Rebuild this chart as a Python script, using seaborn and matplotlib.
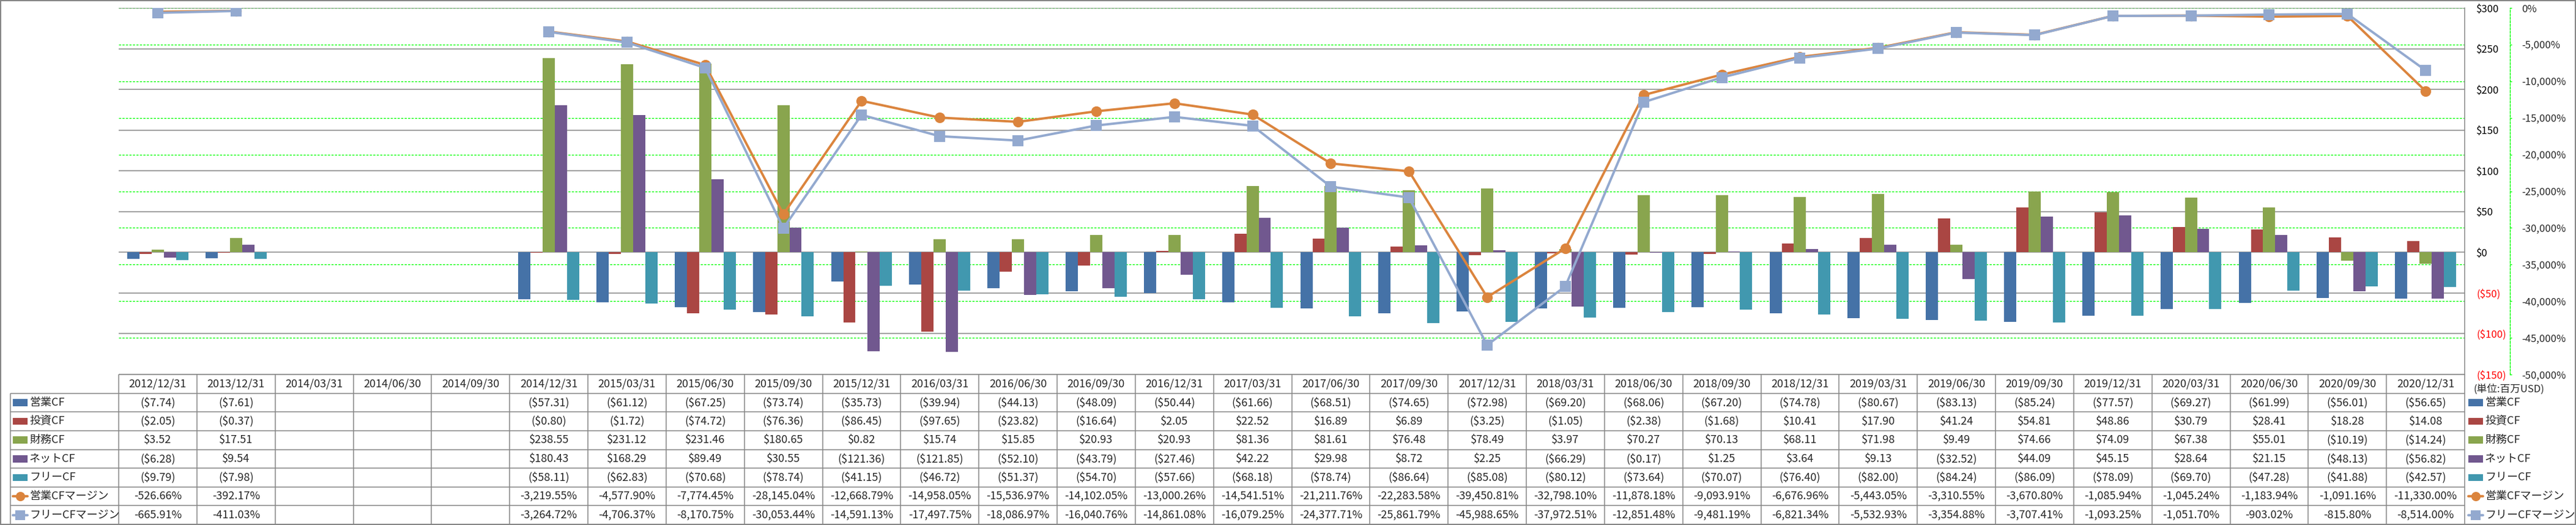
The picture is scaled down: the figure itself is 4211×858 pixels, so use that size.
import numpy as np
import pandas as pd
import matplotlib
matplotlib.use("Agg")
import matplotlib.pyplot as plt
import seaborn as sns
from matplotlib.patches import Rectangle

nan = np.nan

dates = ["2012/12/31", "2013/12/31", "2014/03/31", "2014/06/30", "2014/09/30",
         "2014/12/31", "2015/03/31", "2015/06/30", "2015/09/30", "2015/12/31",
         "2016/03/31", "2016/06/30", "2016/09/30", "2016/12/31", "2017/03/31",
         "2017/06/30", "2017/09/30", "2017/12/31", "2018/03/31", "2018/06/30",
         "2018/09/30", "2018/12/31", "2019/03/31", "2019/06/30", "2019/09/30",
         "2019/12/31", "2020/03/31", "2020/06/30", "2020/09/30", "2020/12/31"]

op_cf = [-7.74, -7.61, nan, nan, nan, -57.31, -61.12, -67.25, -73.74, -35.73,
         -39.94, -44.13, -48.09, -50.44, -61.66, -68.51, -74.65, -72.98, -69.20, -68.06,
         -67.20, -74.78, -80.67, -83.13, -85.24, -77.57, -69.27, -61.99, -56.01, -56.65]
inv_cf = [-2.05, -0.37, nan, nan, nan, -0.80, -1.72, -74.72, -76.36, -86.45,
          -97.65, -23.82, -16.64, 2.05, 22.52, 16.89, 6.89, -3.25, -1.05, -2.38,
          -1.68, 10.41, 17.90, 41.24, 54.81, 48.86, 30.79, 28.41, 18.28, 14.08]
fin_cf = [3.52, 17.51, nan, nan, nan, 238.55, 231.12, 231.46, 180.65, 0.82,
          15.74, 15.85, 20.93, 20.93, 81.36, 81.61, 76.48, 78.49, 3.97, 70.27,
          70.13, 68.11, 71.98, 9.49, 74.66, 74.09, 67.38, 55.01, -10.19, -14.24]
net_cf = [-6.28, 9.54, nan, nan, nan, 180.43, 168.29, 89.49, 30.55, -121.36,
          -121.85, -52.10, -43.79, -27.46, 42.22, 29.98, 8.72, 2.25, -66.29, -0.17,
          1.25, 3.64, 9.13, -32.52, 44.09, 45.15, 28.64, 21.15, -48.13, -56.82]
free_cf = [-9.79, -7.98, nan, nan, nan, -58.11, -62.83, -70.68, -78.74, -41.15,
           -46.72, -51.37, -54.70, -57.66, -68.18, -78.74, -86.64, -85.08, -80.12, -73.64,
           -70.07, -76.40, -82.00, -84.24, -86.09, -78.09, -69.70, -47.28, -41.88, -42.57]
op_margin = [-526.66, -392.17, nan, nan, nan, -3219.55, -4577.90, -7774.45, -28145.04, -12668.79,
             -14958.05, -15536.97, -14102.05, -13000.26, -14541.51, -21211.76, -22283.58, -39450.81,
             -32798.10, -11878.18, -9093.91, -6676.96, -5443.05, -3310.55, -3670.80, -1085.94,
             -1045.24, -1183.94, -1091.16, -11330.00]
free_margin = [-665.91, -411.03, nan, nan, nan, -3264.72, -4706.37, -8170.75, -30053.44, -14591.13,
               -17497.75, -18086.97, -16040.76, -14861.08, -16079.25, -24377.71, -25861.79, -45988.65,
               -37972.51, -12851.48, -9481.19, -6821.34, -5532.93, -3354.88, -3707.41, -1093.25,
               -1051.70, -903.02, -815.80, -8514.00]

bar_names = ["営業CF", "投資CF", "財務CF", "ネットCF", "フリーCF"]
bar_colors = ["#4572A7", "#AA4643", "#89A54E", "#71588F", "#4198AF"]
line_names = ["営業CFマージン", "フリーCFマージン"]
line_colors = ["#DB843D", "#93A9CF"]
line_markers = ["o", "s"]
usd_ticks = [300, 250, 200, 150, 100, 50, 0, -50, -100, -150]
pct_ticks = [0, -5000, -10000, -15000, -20000, -25000, -30000, -35000, -40000, -45000, -50000]
unit_label = "(単位:百万USD)"

# ---------------------------------------------------------------- setup
sns.set_theme(style="white")
plt.rcParams["font.family"] = ["Noto Sans CJK JP", "DejaVu Sans"]
plt.rcParams["axes.unicode_minus"] = False

W, H = 4211, 858
fig = plt.figure(figsize=(W / 100, H / 100), dpi=100)
fig.patch.set_facecolor("white")

PL, PR, PT, PB = 194, 4029, 13, 612
pos = [PL / W, 1 - PB / H, (PR - PL) / W, (PB - PT) / H]
ncat = len(dates)
GRAY = "#868686"
GREEN = "#00FF00"
RED = "#FF0000"

# green gridlines (secondary axis) at the back
gax = fig.add_axes(pos)
gax.set_zorder(0)
gax.set_xlim(-0.5, ncat - 0.5)
gax.set_ylim(-50000, 0)
gax.set_yticks(pct_ticks)
gax.set_xticks([])
gax.tick_params(left=False, right=False, labelleft=False, labelright=False)
gax.grid(axis="y", color=GREEN, linestyle=(0, (2.5, 1.6)), linewidth=1.0)
for s in gax.spines.values():
    s.set_visible(False)

# bars
ax = fig.add_axes(pos)
ax.set_zorder(1)
ax.patch.set_visible(False)
bar_df = pd.DataFrame({
    "date": np.repeat(dates, 1).tolist() * len(bar_names),
    "series": np.repeat(bar_names, ncat),
    "value": op_cf + inv_cf + fin_cf + net_cf + free_cf,
}).dropna()
sns.barplot(data=bar_df, x="date", y="value", hue="series", order=dates,
            hue_order=bar_names, palette=bar_colors, width=0.78, saturation=1,
            errorbar=None, linewidth=0, legend=False, ax=ax)
ax.set_xlim(-0.5, ncat - 0.5)
ax.set_ylim(-150, 300)
ax.set_yticks(usd_ticks)
ax.set_yticklabels([f"${v}" if v >= 0 else f"(${-v})" for v in usd_ticks])
ax.yaxis.tick_right()
ax.tick_params(axis="y", length=0, pad=13.7, labelsize=12)
ax.tick_params(axis="x", bottom=False, labelbottom=False)
for lbl, v in zip(ax.get_yticklabels(), usd_ticks):
    lbl.set_color(RED if v < 0 else "black")
ax.set_xlabel("")
ax.set_ylabel("")
ax.grid(axis="y", color=GRAY, linewidth=1.1)
ax.set_axisbelow(True)
for k, s in ax.spines.items():
    s.set_visible(k == "right")
ax.spines["right"].set_color(GRAY)
ax.spines["right"].set_linewidth(1.1)

# lines (secondary axis)
ax2 = fig.add_axes(pos)
ax2.set_zorder(2)
ax2.patch.set_visible(False)
idx = np.arange(ncat)
seg = np.cumsum(np.isnan(np.array(op_margin, dtype=float)))
line_df = pd.DataFrame({
    "pos": np.tile(idx, 2),
    "series": np.repeat(line_names, ncat),
    "seg": np.tile(seg, 2),
    "value": op_margin + free_margin,
}).dropna()
sns.lineplot(data=line_df, x="pos", y="value", hue="series", style="series",
             units="seg", estimator=None, hue_order=line_names, style_order=line_names,
             palette=line_colors, markers=dict(zip(line_names, line_markers)),
             dashes=False, markersize=12.5, linewidth=2.8, markeredgewidth=0,
             legend=False, ax=ax2)
ax2.set_xlim(-0.5, ncat - 0.5)
ax2.set_ylim(-50000, 0)
ax2.set_yticks(pct_ticks)
ax2.set_yticklabels([f"{v:,}%" for v in pct_ticks])
ax2.yaxis.tick_right()
ax2.set_xticks([])
ax2.set_xlabel("")
ax2.set_ylabel("")
ax2.tick_params(axis="y", length=2.5, width=1, color=GREEN, pad=11.5, labelsize=12)
for lbl, v in zip(ax2.get_yticklabels(), pct_ticks):
    lbl.set_color(RED if v < 0 else "black")
for k, s in ax2.spines.items():
    s.set_visible(k == "right")
ax2.spines["right"].set_position(("outward", 74 * 0.72))
ax2.spines["right"].set_color(GREEN)
ax2.spines["right"].set_linestyle((0, (2.5, 1.6)))
ax2.spines["right"].set_linewidth(1.0)

# ---------------------------------------------------------------- data table
TL, TT, TB = 17, 612, 857
cw = (PR - PL) / ncat
lblw = (PL - TL) / cw
tax = fig.add_axes([TL / W, 1 - TB / H, (PR - TL) / W, (TB - TT) / H])
tax.set_xlim(-0.5 - lblw, ncat - 0.5)
tax.set_ylim(8, 0)
tax.axis("off")
x_left = -0.5 - lblw
tax.hlines(0, -0.5, ncat - 0.5, color=GRAY, lw=1.1, clip_on=False)
tax.hlines(np.arange(1, 9), x_left, ncat - 0.5, color=GRAY, lw=1.1, clip_on=False)
tax.vlines(x_left, 1, 8, color=GRAY, lw=1.1, clip_on=False)
tax.vlines(np.arange(ncat + 1) - 0.5, 0, 8, color=GRAY, lw=1.1, clip_on=False)

for i, d in enumerate(dates):
    tax.text(i, 0.5, d, ha="center", va="center", fontsize=13)


def fmt_usd(v):
    if np.isnan(v):
        return ""
    return f"(${-v:.2f})" if v < 0 else f"${v:.2f}"


def fmt_pct(v):
    if np.isnan(v):
        return ""
    return f"{v:,.2f}%"


rows = [(n, vals, c, None) for n, vals, c in
        zip(bar_names, [op_cf, inv_cf, fin_cf, net_cf, free_cf], bar_colors)]
rows += [(n, vals, c, m) for n, vals, c, m in
         zip(line_names, [op_margin, free_margin], line_colors, line_markers)]

for r, (name, vals, color, marker) in enumerate(rows):
    yc = r + 1.5
    fmt = fmt_usd if marker is None else fmt_pct
    for i, v in enumerate(vals):
        tax.text(i, yc, fmt(v), ha="center", va="center", fontsize=13)
    for x0, xt in [(x_left + 4 / cw, x_left + 31 / cw),
                   (ncat - 0.5 + 6 / cw, ncat - 0.5 + 33 / cw)]:
        if marker is None:
            tax.add_patch(Rectangle((x0, yc - 0.19), 24 / cw, 0.38, color=color,
                                    clip_on=False, lw=0))
        else:
            tax.plot([x0, x0 + 24 / cw], [yc, yc], color=color, lw=2.8, clip_on=False)
            tax.plot([x0 + 12 / cw], [yc], marker=marker, color=color, ms=11,
                     mew=0, clip_on=False)
        tax.text(xt, yc, name, ha="left", va="center", fontsize=13, clip_on=False)

tax.text(ncat - 0.5 + 14 / cw, 0.78, unit_label, ha="left", va="center", fontsize=12,
         clip_on=False)

# outer border
fig.patches.append(Rectangle((0.0002, 0.001), 0.9996, 0.998, transform=fig.transFigure,
                             fill=False, edgecolor=GRAY, lw=1.5))

fig.savefig("out.png", dpi=100, facecolor="white")
